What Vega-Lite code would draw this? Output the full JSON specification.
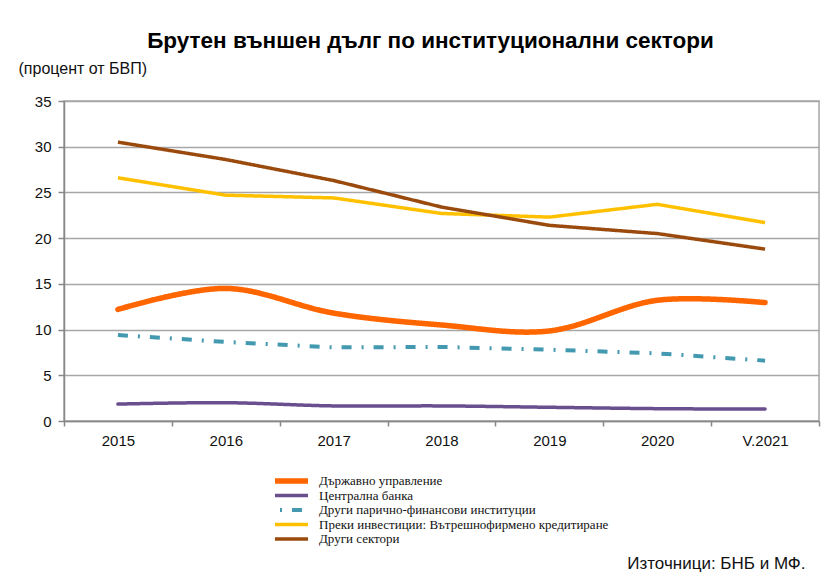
{
  "$schema": "https://vega.github.io/schema/vega-lite/v6.json",
  "autosize": "none",
  "width": 755,
  "height": 320,
  "padding": {"left": 64, "top": 101, "right": 14, "bottom": 160},
  "background": "white",
  "config": {
    "view": {"stroke": "#a6a6a6", "strokeWidth": 1.5},
    "font": "Liberation Sans"
  },
  "title": {
    "text": "Брутен външен дълг по институционални сектори",
    "font": "Liberation Sans",
    "fontSize": 22.5,
    "fontWeight": "bold",
    "color": "#000000",
    "anchor": "middle",
    "dx": -11,
    "offset": 8
  },
  "data": {
    "values": [
      {"year": "2015", "series": "Държавно управление", "value": 12.2},
      {"year": "2016", "series": "Държавно управление", "value": 14.5},
      {"year": "2017", "series": "Държавно управление", "value": 11.8},
      {"year": "2018", "series": "Държавно управление", "value": 10.5},
      {"year": "2019", "series": "Държавно управление", "value": 9.85},
      {"year": "2020", "series": "Държавно управление", "value": 13.2},
      {"year": "V.2021", "series": "Държавно управление", "value": 12.95},
      {"year": "2015", "series": "Централна банка", "value": 1.85},
      {"year": "2016", "series": "Централна банка", "value": 2.0},
      {"year": "2017", "series": "Централна банка", "value": 1.65},
      {"year": "2018", "series": "Централна банка", "value": 1.65},
      {"year": "2019", "series": "Централна банка", "value": 1.5},
      {"year": "2020", "series": "Централна банка", "value": 1.35},
      {"year": "V.2021", "series": "Централна банка", "value": 1.3},
      {"year": "2015", "series": "Други парично-финансови институции", "value": 9.4},
      {"year": "2016", "series": "Други парично-финансови институции", "value": 8.65},
      {"year": "2017", "series": "Други парично-финансови институции", "value": 8.05},
      {"year": "2018", "series": "Други парично-финансови институции", "value": 8.1},
      {"year": "2019", "series": "Други парично-финансови институции", "value": 7.8},
      {"year": "2020", "series": "Други парично-финансови институции", "value": 7.4},
      {"year": "V.2021", "series": "Други парично-финансови институции", "value": 6.6},
      {"year": "2015", "series": "Преки инвестиции: Вътрешнофирмено кредитиране", "value": 26.6},
      {"year": "2016", "series": "Преки инвестиции: Вътрешнофирмено кредитиране", "value": 24.7},
      {"year": "2017", "series": "Преки инвестиции: Вътрешнофирмено кредитиране", "value": 24.4},
      {"year": "2018", "series": "Преки инвестиции: Вътрешнофирмено кредитиране", "value": 22.7},
      {"year": "2019", "series": "Преки инвестиции: Вътрешнофирмено кредитиране", "value": 22.3},
      {"year": "2020", "series": "Преки инвестиции: Вътрешнофирмено кредитиране", "value": 23.7},
      {"year": "V.2021", "series": "Преки инвестиции: Вътрешнофирмено кредитиране", "value": 21.7},
      {"year": "2015", "series": "Други сектори", "value": 30.5},
      {"year": "2016", "series": "Други сектори", "value": 28.6},
      {"year": "2017", "series": "Други сектори", "value": 26.3},
      {"year": "2018", "series": "Други сектори", "value": 23.4},
      {"year": "2019", "series": "Други сектори", "value": 21.4},
      {"year": "2020", "series": "Други сектори", "value": 20.5},
      {"year": "V.2021", "series": "Други сектори", "value": 18.8}
    ]
  },
  "encoding": {
    "x": {
      "field": "year",
      "type": "nominal",
      "sort": null,
      "scale": {"type": "band", "paddingInner": 0, "paddingOuter": 0},
      "axis": {
        "title": "Източници: БНБ и МФ.",
        "titleFont": "Liberation Sans",
        "titleFontSize": 17,
        "titleFontWeight": "normal",
        "titleColor": "#111111",
        "titleX": 741,
        "titleY": 142,
        "titleAlign": "right",
        "titleBaseline": "middle",
        "labelAngle": 0,
        "labelFont": "Liberation Sans",
        "labelFontSize": 15,
        "labelColor": "#111111",
        "labelPadding": 7,
        "tickBand": "extent",
        "tickSize": 5,
        "tickColor": "#888888",
        "tickWidth": 1.5,
        "domainColor": "#888888",
        "domainWidth": 1.5,
        "grid": false
      }
    },
    "y": {
      "field": "value",
      "type": "quantitative",
      "scale": {"domain": [0, 35], "nice": false},
      "axis": {
        "values": [0, 5, 10, 15, 20, 25, 30, 35],
        "title": "(процент от БВП)",
        "titleFont": "Liberation Sans",
        "titleFontSize": 16,
        "titleFontWeight": "normal",
        "titleColor": "#111111",
        "titleAngle": 0,
        "titleAlign": "left",
        "titleBaseline": "middle",
        "titleX": -46,
        "titleY": -33,
        "labelFont": "Liberation Sans",
        "labelFontSize": 15,
        "labelColor": "#111111",
        "labelPadding": 7,
        "tickSize": 6,
        "tickColor": "#888888",
        "tickWidth": 1.5,
        "domainColor": "#888888",
        "domainWidth": 1.5,
        "grid": true,
        "gridColor": "#a6a6a6",
        "gridWidth": 1.5
      }
    },
    "color": {
      "field": "series",
      "type": "nominal",
      "scale": {
        "domain": ["Държавно управление", "Централна банка", "Други парично-финансови институции", "Преки инвестиции: Вътрешнофирмено кредитиране", "Други сектори"],
        "range": ["#ff6600", "#6a4f8f", "#4399b0", "#ffc000", "#994a0c"]
      },
      "legend": {
        "title": null,
        "orient": "none",
        "legendX": 211,
        "legendY": 373,
        "labelFont": "Liberation Serif",
        "labelFontSize": 13,
        "labelColor": "#111111",
        "labelOffset": 26,
        "symbolType": "M-4,0H4",
        "symbolSize": 144,
        "rowPadding": 0.5,
        "clipHeight": 14,
        "labelLimit": 500
      }
    },
    "strokeDash": {
      "field": "series",
      "type": "nominal",
      "scale": {
        "domain": ["Държавно управление", "Централна банка", "Други парично-финансови институции", "Преки инвестиции: Вътрешнофирмено кредитиране", "Други сектори"],
        "range": [[1, 0], [1, 0], [10, 10, 2, 10], [1, 0], [1, 0]]
      }
    },
    "strokeWidth": {
      "field": "series",
      "type": "nominal",
      "scale": {
        "type": "ordinal",
        "domain": ["Държавно управление", "Централна банка", "Други парично-финансови институции", "Преки инвестиции: Вътрешнофирмено кредитиране", "Други сектори"],
        "range": [5.5, 3.5, 4, 3.5, 3.5]
      }
    }
  },
  "layer": [
    {
      "transform": [{"filter": "datum.series == 'Държавно управление' || datum.series == 'Централна банка'"}],
      "mark": {"type": "line", "interpolate": "catmull-rom", "strokeCap": "round"}
    },
    {
      "transform": [{"filter": "datum.series != 'Държавно управление' && datum.series != 'Централна банка'"}],
      "mark": {"type": "line", "interpolate": "linear", "strokeCap": "butt", "strokeJoin": "round"}
    }
  ]
}
